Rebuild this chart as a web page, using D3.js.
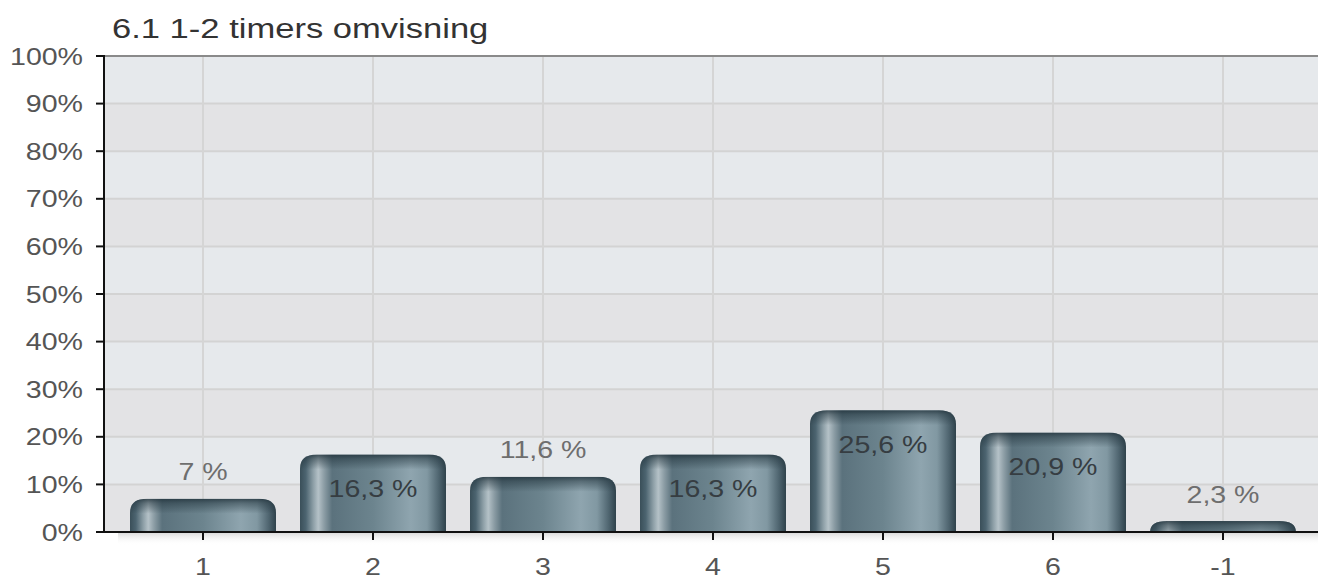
<!DOCTYPE html>
<html>
<head>
<meta charset="utf-8">
<script src="https://cdn.jsdelivr.net/npm/d3@7"></script>
<style>
  html, body { margin: 0; padding: 0; background: #ffffff; }
  svg { display: block; }
  text { font-family: "Liberation Sans", Arial, Helvetica, sans-serif; }
</style>
</head>
<body>
<svg id="chart" width="1318" height="579"></svg>
<script>
// ---- data ----
const title = "6.1 1-2 timers omvisning";
const categories = ["1", "2", "3", "4", "5", "6", "-1"];
const values = [7, 16.3, 11.6, 16.3, 25.6, 20.9, 2.3];
const valueLabels = ["7 %", "16,3 %", "11,6 %", "16,3 %", "25,6 %", "20,9 %", "2,3 %"];
const yTicks = [0, 10, 20, 30, 40, 50, 60, 70, 80, 90, 100];
const yTickLabels = ["0%", "10%", "20%", "30%", "40%", "50%", "60%", "70%", "80%", "90%", "100%"];

// ---- layout ----
const W = 1318, H = 579;
const plotLeft = 104, plotRight = 1318, plotTop = 56, plotBottom = 532;
const SX = 1.19; // horizontal stretch of the reference text

const svg = d3.select("#chart");
const defs = svg.append("defs");

const x = d3.scaleBand().domain(categories).range([118, 1308]).paddingInner(0.1412).paddingOuter(0.0706);
const y = d3.scaleLinear().domain([0, 100]).range([plotBottom, plotTop]);

// gradients
const hg = defs.append("linearGradient").attr("id", "barH").attr("x1", 0).attr("x2", 1).attr("y1", 0).attr("y2", 0);
[[0, "#3a4f59"], [0.04, "#4c6470"], [0.09, "#8c9ea6"], [0.125, "#b4c1c7"], [0.165, "#8c9da5"], [0.22, "#5b727d"],
 [0.5, "#6c848e"], [0.76, "#8fa5af"], [0.87, "#8198a2"], [0.95, "#4f6570"], [1, "#2f424b"]]
  .forEach(([o, c]) => hg.append("stop").attr("offset", o).attr("stop-color", c));

const vg = defs.append("linearGradient").attr("id", "capV").attr("x1", 0).attr("x2", 0).attr("y1", 0).attr("y2", 1);
[[0, "#1e2f38", 0.8], [0.3, "#22343d", 0.5], [1, "#22343d", 0]]
  .forEach(([o, c, a]) => vg.append("stop").attr("offset", o).attr("stop-color", c).attr("stop-opacity", a));

const sg = defs.append("linearGradient").attr("id", "axShadow").attr("x1", 0).attr("x2", 0).attr("y1", 0).attr("y2", 1);
[[0, "#dcdcdc", 1], [1, "#ffffff", 0]]
  .forEach(([o, c, a]) => sg.append("stop").attr("offset", o).attr("stop-color", c).attr("stop-opacity", a));

// ---- plot background bands ----
const bands = yTicks.slice(0, -1);
svg.append("g").selectAll("rect").data(bands).join("rect")
  .attr("x", plotLeft).attr("width", plotRight - plotLeft)
  .attr("y", d => y(d + 10)).attr("height", d => y(d) - y(d + 10))
  .attr("fill", d => (d / 10) % 2 === 1 ? "#e6e9ec" : "#e3e3e5");

// horizontal gridlines
svg.append("g").selectAll("line").data(yTicks.slice(1, -1)).join("line")
  .attr("x1", plotLeft).attr("x2", plotRight)
  .attr("y1", d => y(d)).attr("y2", d => y(d))
  .attr("stroke", "#d3d3d3").attr("stroke-width", 2);

// vertical gridlines
svg.append("g").selectAll("line").data(categories).join("line")
  .attr("x1", d => x(d) + x.bandwidth() / 2).attr("x2", d => x(d) + x.bandwidth() / 2)
  .attr("y1", plotTop).attr("y2", plotBottom)
  .attr("stroke", "#d5d5d5").attr("stroke-width", 2);

// top border
svg.append("line").attr("x1", plotLeft).attr("x2", plotRight).attr("y1", plotTop).attr("y2", plotTop)
  .attr("stroke", "#8a8a8a").attr("stroke-width", 2);

// shadow under x axis
svg.append("rect").attr("x", 118).attr("y", plotBottom + 1).attr("width", plotRight - 118).attr("height", 12)
  .attr("fill", "url(#axShadow)");

// ---- bars ----
function barPath(x0, w, yTop, yBot) {
  const h = yBot - yTop;
  const r = Math.min(17, w / 2);
  const ry = Math.min(14, h);
  return `M${x0},${yBot} L${x0},${yTop + ry} Q${x0},${yTop} ${x0 + r},${yTop} L${x0 + w - r},${yTop} Q${x0 + w},${yTop} ${x0 + w},${yTop + ry} L${x0 + w},${yBot} Z`;
}

const barG = svg.append("g");
categories.forEach((c, i) => {
  const x0 = x(c), w = x.bandwidth(), yTop = y(values[i]), yBot = y(0);
  const id = "clip" + i;
  defs.append("clipPath").attr("id", id).append("path").attr("d", barPath(x0, w, yTop, yBot));
  const g = barG.append("g").attr("clip-path", `url(#${id})`);
  g.append("rect").attr("x", x0).attr("y", yTop).attr("width", w).attr("height", yBot - yTop).attr("fill", "url(#barH)");
  g.append("rect").attr("x", x0).attr("y", yTop).attr("width", w).attr("height", 15).attr("fill", "url(#capV)");
});

// ---- value labels ----
svg.append("g").selectAll("text").data(categories).join("text")
  .attr("transform", (d, i) => {
    const cx = x(d) + x.bandwidth() / 2;
    const inside = values[i] >= 15;
    const cy = inside ? y(values[i]) + 34 : y(values[i]) - 27;
    return `translate(${cx},${cy + 8.5}) scale(${SX},1)`;
  })
  .attr("text-anchor", "middle")
  .attr("font-size", 24)
  .attr("fill", (d, i) => values[i] >= 15 ? "#363d42" : "#6e6e6e")
  .text((d, i) => valueLabels[i]);

// ---- axes ----
// y axis line & ticks
svg.append("line").attr("x1", plotLeft).attr("x2", plotLeft).attr("y1", plotTop - 1).attr("y2", plotBottom)
  .attr("stroke", "#111").attr("stroke-width", 2);
svg.append("g").selectAll("line").data(yTicks).join("line")
  .attr("x1", 96).attr("x2", plotLeft).attr("y1", d => y(d)).attr("y2", d => y(d))
  .attr("stroke", "#111").attr("stroke-width", 2);
svg.append("g").selectAll("text").data(yTicks).join("text")
  .attr("transform", d => `translate(83,${y(d) + 8.5}) scale(${SX},1)`)
  .attr("text-anchor", "end").attr("font-size", 24).attr("fill", "#555")
  .text((d, i) => yTickLabels[i]);

// x axis line & ticks
svg.append("line").attr("x1", 96).attr("x2", plotRight).attr("y1", plotBottom).attr("y2", plotBottom)
  .attr("stroke", "#111").attr("stroke-width", 2);
svg.append("g").selectAll("line").data(categories).join("line")
  .attr("x1", d => x(d) + x.bandwidth() / 2).attr("x2", d => x(d) + x.bandwidth() / 2)
  .attr("y1", plotBottom).attr("y2", plotBottom + 8)
  .attr("stroke", "#111").attr("stroke-width", 2);
svg.append("g").selectAll("text").data(categories).join("text")
  .attr("transform", d => `translate(${x(d) + x.bandwidth() / 2},575) scale(${SX},1)`)
  .attr("text-anchor", "middle").attr("font-size", 24).attr("fill", "#555")
  .text(d => d);

// ---- title ----
svg.append("text")
  .attr("transform", `translate(112,38) scale(1.28,1)`)
  .attr("font-size", 27).attr("fill", "#333")
  .text(title);
</script>
</body>
</html>
